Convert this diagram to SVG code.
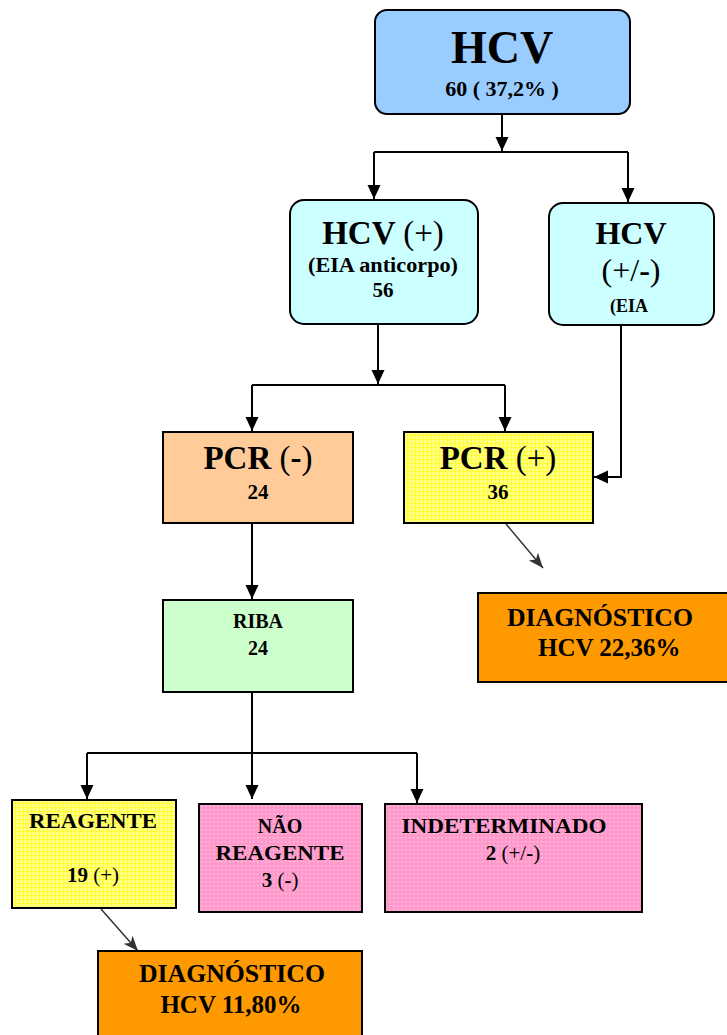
<svg xmlns="http://www.w3.org/2000/svg" width="727" height="1035" viewBox="0 0 727 1035">
<style>
text{font-family:"Liberation Serif","Times New Roman",serif;font-weight:bold;fill:#000;text-anchor:middle}
.n{font-weight:normal}
.box{stroke:#000;stroke-width:2}
.c{fill:none;stroke:#000;stroke-width:2}
.g{fill:none;stroke:#333;stroke-width:1.5}
</style>
<defs>
<marker id="ah" markerUnits="userSpaceOnUse" markerWidth="15" markerHeight="14" refX="14" refY="6.5" orient="auto"><path d="M0,0 L14,6.5 L0,13 z" fill="#000"/></marker>
<marker id="ag" markerUnits="userSpaceOnUse" markerWidth="16" markerHeight="14" refX="15" refY="6" orient="auto"><path d="M0,0 L15,6 L0,12 L4,6 z" fill="#333"/></marker>
<pattern id="yel" width="4" height="4" patternUnits="userSpaceOnUse"><rect width="4" height="4" fill="#FFFF33"/><rect width="3" height="3" fill="#FFFF88"/></pattern>
<pattern id="pnk" width="4" height="4" patternUnits="userSpaceOnUse"><rect width="4" height="4" fill="#FF99CC"/><rect x="1" y="1" width="1.5" height="1.5" fill="#FFC0E0"/></pattern>
</defs>
<g id="connectors">
<path class="c" d="M502,114 V151" marker-end="url(#ah)"/>
<path class="c" d="M374,152 H628"/>
<path class="c" d="M374,152 V199" marker-end="url(#ah)"/>
<path class="c" d="M628,152 V202" marker-end="url(#ah)"/>
<path class="c" d="M378,324 V384" marker-end="url(#ah)"/>
<path class="c" d="M252,385 H505"/>
<path class="c" d="M252,385 V431" marker-end="url(#ah)"/>
<path class="c" d="M505,385 V431" marker-end="url(#ah)"/>
<path class="c" d="M621,325 V477 H594" marker-end="url(#ah)"/>
<path class="g" d="M506,524 L543,568" marker-end="url(#ag)"/>
<path class="c" d="M252,523 V599" marker-end="url(#ah)"/>
<path class="c" d="M252,692 V799" marker-end="url(#ah)"/>
<path class="c" d="M87,753 H417"/>
<path class="c" d="M87,753 V799" marker-end="url(#ah)"/>
<path class="c" d="M417,753 V803" marker-end="url(#ah)"/>
<path class="g" d="M101,909 L138,951" marker-end="url(#ag)"/>
</g>
<g id="hcv">
<rect class="box" x="375" y="10" width="255" height="104" rx="12" fill="#99CCFF"/>
<text x="502" y="63" font-size="46">HCV</text>
<text x="502" y="96" font-size="22">60 ( 37,2% )</text>
</g>
<g id="hcv-pos">
<rect class="box" x="290" y="200" width="188" height="124" rx="14" fill="#CCFFFF"/>
<text x="383" y="244" font-size="33">HCV <tspan class="n">(+)</tspan></text>
<text x="383" y="272" font-size="20" textLength="150" lengthAdjust="spacingAndGlyphs">(EIA anticorpo)</text>
<text x="383" y="297" font-size="21">56</text>
</g>
<g id="hcv-ind">
<rect class="box" x="549" y="203" width="165" height="122" rx="14" fill="#CCFFFF"/>
<text x="631" y="244" font-size="32">HCV</text>
<text x="631" y="281" font-size="32" class="n">(+/<tspan font-weight="bold">-</tspan>)</text>
<text x="610" y="312" font-size="18" style="text-anchor:start">(EIA</text>
</g>
<g id="pcr-neg">
<rect class="box" x="163" y="432" width="190" height="91" fill="#FFCC99"/>
<text x="258" y="469" font-size="33">PCR <tspan class="n">(</tspan>-<tspan class="n">)</tspan></text>
<text x="258" y="499" font-size="21">24</text>
</g>
<g id="pcr-pos">
<rect class="box" x="404" y="432" width="189" height="91" fill="url(#yel)"/>
<text x="498" y="469" font-size="33">PCR <tspan class="n">(+)</tspan></text>
<text x="498" y="499" font-size="21">36</text>
</g>
<g id="diag1">
<rect class="box" x="478" y="593" width="252" height="89" fill="#FF9900"/>
<text x="507" y="626" font-size="25" style="text-anchor:start" textLength="186" lengthAdjust="spacingAndGlyphs">DIAGNÓSTICO</text>
<text x="538" y="656" font-size="25" style="text-anchor:start">HCV 22,36%</text>
</g>
<g id="riba">
<rect class="box" x="163" y="600" width="190" height="92" fill="#CCFFCC"/>
<text x="258" y="628" font-size="20">RIBA</text>
<text x="258" y="655" font-size="20">24</text>
</g>
<g id="reagente">
<rect class="box" x="12" y="800" width="164" height="108" fill="url(#yel)"/>
<text x="93" y="828" font-size="20" textLength="128" lengthAdjust="spacingAndGlyphs">REAGENTE</text>
<text x="93" y="882" font-size="21">19 <tspan class="n">(+)</tspan></text>
</g>
<g id="nao-reagente">
<rect class="box" x="199" y="804" width="163" height="108" fill="url(#pnk)"/>
<text x="280" y="833" font-size="20">NÃO</text>
<text x="280" y="860" font-size="20" textLength="129" lengthAdjust="spacingAndGlyphs">REAGENTE</text>
<text x="280" y="887" font-size="21">3 <tspan class="n">(</tspan>-<tspan class="n">)</tspan></text>
</g>
<g id="indeterminado">
<rect class="box" x="385" y="804" width="257" height="108" fill="url(#pnk)"/>
<text x="504" y="833" font-size="20" textLength="205" lengthAdjust="spacingAndGlyphs">INDETERMINADO</text>
<text x="513" y="860" font-size="21">2 <tspan class="n">(+/</tspan>-<tspan class="n">)</tspan></text>
</g>
<g id="diag2">
<rect class="box" x="98" y="951" width="264" height="90" fill="#FF9900"/>
<text x="232" y="982" font-size="25" textLength="186" lengthAdjust="spacingAndGlyphs">DIAGNÓSTICO</text>
<text x="231" y="1013" font-size="25">HCV 11,80%</text>
</g>
</svg>
